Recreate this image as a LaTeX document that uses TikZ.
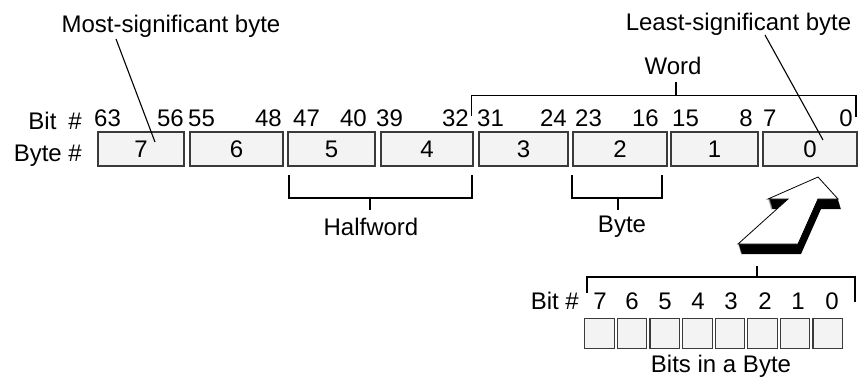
\documentclass[tikz,border=0pt]{standalone}
\usepackage{fontspec}
\setmainfont{Liberation Sans}
\definecolor{boxfill}{HTML}{F3F3F3}
\definecolor{boxline}{HTML}{3A3A3A}
\begin{document}
\begin{tikzpicture}[x=1pt,y=-1pt,
  lbl/.style={inner sep=0pt, font=\fontsize{24}{29}\selectfont},
  bytebox/.style={draw=boxline, fill=boxfill, line width=1.3pt, minimum height=34pt, inner sep=0pt, font=\fontsize{24}{29}\selectfont},
  bitbox/.style={draw=boxline, fill=boxfill, line width=1.1pt, minimum width=29.5pt, minimum height=30pt, inner sep=0pt},
  brk/.style={line width=1.4pt, draw=black},
  leader/.style={line width=1.1pt, draw=black}]
\useasboundingbox (0,0) rectangle (861,381);
\fill[white] (0,0) rectangle (861,381);

% byte boxes
\node[bytebox, minimum width=86pt] (b7) at (141,149) {7};
\node[bytebox, minimum width=93pt] (b6) at (236.5,149) {6};
\node[bytebox, minimum width=87pt] (b5) at (331.5,149) {5};
\node[bytebox, minimum width=92pt] (b4) at (427,149) {4};
\node[bytebox, minimum width=89pt] (b3) at (523.5,149) {3};
\node[bytebox, minimum width=94pt] (b2) at (620,149) {2};
\node[bytebox, minimum width=87pt] (b1) at (714.5,149) {1};
\node[bytebox, minimum width=94pt] (b0) at (810,149) {0};

% row labels
\node[lbl, anchor=base east] (bitlbl) at (82,129.5) {Bit\hspace{12pt}\#};
\node[lbl, anchor=base east] (bytelbl) at (82,161) {Byte \#};

% bit numbers
\foreach \n/\x/\a in {63/94/west,56/184/east,55/188/west,48/282/east,47/293/west,40/367/east,39/376/west,32/469/east,31/477/west,24/567/east,23/575/west,16/659/east,15/672/west,8/753/east,7/763/west,0/853/east}
  \node[lbl, anchor=base \a] (n\n) at (\x,126.5) {\n};

% significant byte labels and leaders
\node[lbl, anchor=base] (msb) at (171,32) {Most-significant byte};
\node[lbl, anchor=base] (lsb) at (738.5,30) {Least-significant byte};
\coordinate (msbA) at (116,39);
\coordinate (msbB) at (155,142);
\coordinate (lsbA) at (765,35);
\coordinate (lsbB) at (823,140);
\draw[leader] (msbA) -- (msbB);
\draw[leader] (lsbA) -- (lsbB);

% word bracket
\node[lbl, anchor=base] (word) at (673,74) {Word};
\draw[brk] (471.7,116) -- (471.7,95.7) -- (856,95.7) -- (856,117);
\draw[brk] (676,95.7) -- (676,82);

% halfword bracket
\draw[brk] (289,175) -- (289,198) -- (472,198) -- (472,175);
\draw[brk] (370,198) -- (370,210);
\node[lbl, anchor=base] (half) at (371,235) {Halfword};

% byte bracket
\draw[brk] (572,175) -- (572,198) -- (662,198) -- (662,175);
\draw[brk] (618,198) -- (618,210);
\node[lbl, anchor=base] (bytew) at (622,232) {Byte};

% 3D arrow
\foreach \t in {0.1,0.2,...,1.0}
  \fill[black, shift={(3*\t,10*\t)}] (818,177) -- (838,199) -- (818,199) -- (798,244) -- (738,244) -- (788,199) -- (768,199) -- cycle;
\filldraw[fill=white, draw=black, line width=0.8pt, line join=miter] (818,177) -- (838,199) -- (818,199) -- (798,244) -- (738,244) -- (788,199) -- (768,199) -- cycle;

% bits in a byte
\draw[brk] (587,293) -- (587,277) -- (855,277) -- (855,302);
\draw[brk] (757,277) -- (757,266);
\node[lbl, anchor=base east] (bitlbl2) at (579,309) {Bit \#};
\foreach \d/\x in {7/600,6/632,5/665,4/698,3/731,2/765,1/798,0/832}
  \node[lbl, anchor=base] (d\d) at (\x,309) {\d};
\foreach \i in {0,...,7}
  \node[bitbox] (bb\i) at (599.5+32.6*\i,333.5) {};
\node[lbl, anchor=base] (bitsin) at (721,372) {Bits in a Byte};
\end{tikzpicture}
\end{document}
